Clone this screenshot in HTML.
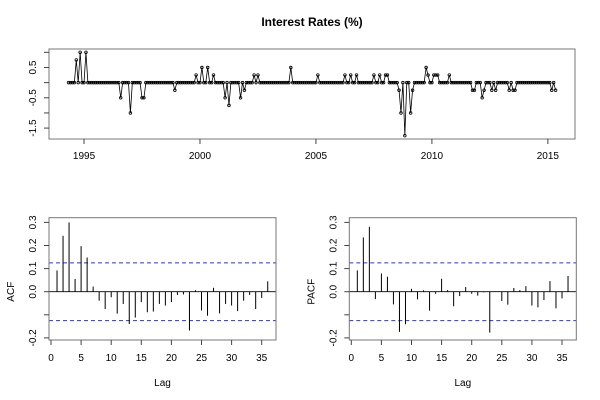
<!DOCTYPE html>
<html><head><meta charset="utf-8"><style>
body{margin:0;background:#fff;}
svg{display:block;font-family:"Liberation Sans",Arial,sans-serif;}
</style></head><body>
<svg id="c" width="600" height="400"></svg>
<script>
const seriesStart = 1994.3333;
const seriesFreq = 12;
const rates = [
0,0,0,0,0.75,0,1,0,0,1,0,0,
0,0,0,0,0,0,0,0,0,0,0,0,
0,0,0,-0.5,0,0,0,0,-1,0,0,0,
0,0,-0.5,-0.5,0,0,0,0,0,0,0,0,
0,0,0,0,0,0,0,-0.25,0,0,0,0,
0,0,0,0,0,0,0.25,0,0,0.5,0,0,
0.5,0,0,0.25,0,0,0,0,0,-0.5,0,-0.75,
0,0,0,0,0,-0.5,0,-0.25,0,0,0,0,
0.25,0,0.25,0,0,0,0,0,0,0,0,0,
0,0,0,0,0,0,0,0.5,0,0,0,0,
0,0,0,0,0,0,0,0,0,0.25,0,0,
0,0,0,0,0,0,0,0,0,0,0,0.25,
0,0,0.25,0,0,0.25,0,0,0,0,0,0,
0,0,0.25,0,0,0.25,0,0,0.25,0.25,0,0,
0,0,0,-0.25,-1,0,-1.75,0,0,-1,-0.25,0,
0,0,0,0,0,0.5,0.25,0,0,0.25,0.25,0.25,
0,0,0,0,0,0.25,0,0,0,0,0,0,
0,0,0,0,0,-0.25,-0.25,0,0,0,-0.5,-0.25,
0,0,0,-0.25,0,-0.25,0,0,0,0,0,0,
-0.25,0,-0.25,-0.25,0,0,0,0,0,0,0,0,
0,0,0,0,0,0,0,0,0,0,-0.25,0,
-0.25
];
const yearTicks = [1995,2000,2005,2010,2015];
const rateTicks = [1,0.5,0,-0.5,-1,-1.5];
const rateLabels = ["","0.5","","-0.5","","-1.5"];
const acfVals = [0.092,0.242,0.30,0.055,0.197,0.148,0.022,-0.039,-0.075,-0.024,-0.095,-0.053,-0.14,-0.112,-0.045,-0.089,-0.086,-0.053,-0.06,-0.045,-0.014,-0.012,-0.168,0.006,-0.081,-0.104,0.017,-0.094,-0.053,-0.06,-0.084,-0.039,-0.014,-0.075,-0.027,0.045];
const pacfVals = [0.092,0.235,0.281,-0.032,0.079,0.065,-0.055,-0.174,-0.141,0.012,-0.033,0.006,-0.082,-0.009,0.056,0.007,-0.063,-0.019,0.02,-0.009,-0.017,-0.003,-0.177,0.001,-0.04,-0.056,0.016,0.007,0.024,-0.06,-0.068,-0.036,0.046,-0.072,-0.029,0.068];
const ciBound = 0.125;
const lagTicks = [0,5,10,15,20,25,30,35];
const corrTicks = [0.3,0.2,0.1,0.0,-0.1,-0.2];
const corrLabels = ["0.3","0.2","0.1","0.0","","-0.2"];

const NS="http://www.w3.org/2000/svg";
const svg=document.getElementById('c');
function mk(tag,attrs,parent){const e=document.createElementNS(NS,tag);for(const k in attrs)e.setAttribute(k,attrs[k]);(parent||svg).appendChild(e);return e;}

let t=mk('text',{x:312,y:26,'text-anchor':'middle','font-size':12,'font-weight':'bold',fill:'#000'});
t.textContent='Interest Rates (%)';



const topBox={l:49,r:575,t:49,b:139};
const xMin=1993.49,xMax=2016.17,yMin=-1.86,yMax=1.11;
const tx=v=>topBox.l+(v-xMin)/(xMax-xMin)*(topBox.r-topBox.l);
const ty=v=>topBox.b-(v-yMin)/(yMax-yMin)*(topBox.b-topBox.t);
let g=mk('g',{});


let pts=rates.map((v,i)=>tx(seriesStart+i/seriesFreq).toFixed(2)+','+ty(v).toFixed(2)).join(' ');
let pl=mk('polyline',{points:pts,fill:'none',stroke:'#000','stroke-width':0.8},g);


rates.forEach((v,i)=>{
  const c=mk('circle',{cx:tx(seriesStart+i/seriesFreq),cy:ty(v),r:1.3,fill:'none',stroke:'#000','stroke-width':0.8},g);
  
  
});
let bx=mk('rect',{x:topBox.l,y:topBox.t,width:topBox.r-topBox.l,height:topBox.b-topBox.t,fill:'none',stroke:'#777','stroke-width':1},g);


yearTicks.forEach(y=>{
  const x=tx(y);
  mk('line',{x1:x,x2:x,y1:topBox.b,y2:topBox.b+5,stroke:'#444'},g);
  const l=mk('text',{x:x,y:topBox.b+20,'text-anchor':'middle','font-size':10,fill:'#000'},g);
  l.textContent=y;
  
  
});
rateTicks.forEach((v,i)=>{
  const y=ty(v);
  mk('line',{x1:topBox.l,x2:topBox.l-5,y1:y,y2:y,stroke:'#444'},g);
  if(rateLabels[i]){
    const l=mk('text',{x:0,y:0,'text-anchor':'middle','font-size':10,fill:'#000',transform:`translate(36,${y}) rotate(-90)`},g);
    l.textContent=rateLabels[i];
    
    
  }
});

function corrPanel(ox,vals,ylab,name){
  const p={l:ox,r:ox+227,t:217.7,b:340};
  const lx=v=>ox+2+v*6.02;
  const cy=v=>291.7-v*231;
  const gg=mk('g',{});
  
  
  mk('line',{x1:p.l,x2:p.r,y1:cy(0),y2:cy(0),stroke:'#000','stroke-width':0.8},gg);
  [ciBound,-ciBound].forEach(b=>{
    const d=mk('line',{x1:p.l,x2:p.r,y1:cy(b),y2:cy(b),stroke:'#3333cc','stroke-width':1,'stroke-dasharray':'4,3'},gg);
    
    
  });
  vals.forEach((v,i)=>{
    const x=lx(i+1);
    const b=mk('line',{x1:x,x2:x,y1:cy(0),y2:cy(v),stroke:'#000','stroke-width':1},gg);
    
    
  });
  const r=mk('rect',{x:p.l,y:p.t,width:p.r-p.l,height:p.b-p.t,fill:'none',stroke:'#777'},gg);
  
  
  lagTicks.forEach(v=>{
    const x=lx(v);
    mk('line',{x1:x,x2:x,y1:p.b,y2:p.b+5,stroke:'#444'},gg);
    const l=mk('text',{x:x,y:p.b+21,'text-anchor':'middle','font-size':10,fill:'#000'},gg);
    l.textContent=v;
    
    
  });
  corrTicks.forEach((v,i)=>{
    const y=cy(v);
    mk('line',{x1:p.l,x2:p.l-5,y1:y,y2:y,stroke:'#444'},gg);
    if(corrLabels[i]){
      const l=mk('text',{x:0,y:0,'text-anchor':'middle','font-size':10,fill:'#000',transform:`translate(${ox-13},${y}) rotate(-90)`},gg);
      l.textContent=corrLabels[i];
      
      
    }
  });
  const xl=mk('text',{x:(p.l+p.r)/2,y:386,'text-anchor':'middle','font-size':10,fill:'#000'},gg);
  xl.textContent='Lag';
  
  
  const yl=mk('text',{x:0,y:0,'text-anchor':'middle','font-size':10,fill:'#000',transform:`translate(${ox-35},${cy(0)}) rotate(-90)`},gg);
  yl.textContent=ylab;
  
  
}
corrPanel(49,acfVals,'ACF','acf-panel');
corrPanel(349.3,pacfVals,'PACF','pacf-panel');
</script>
</body></html>
